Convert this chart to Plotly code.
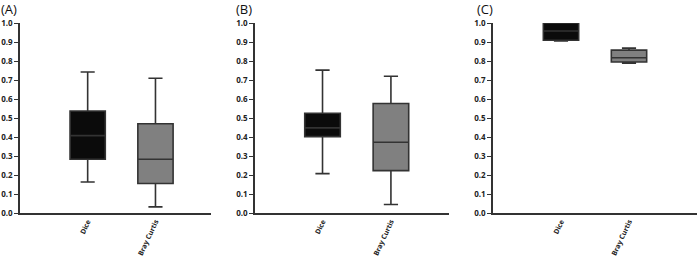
import plotly.graph_objects as go
from plotly.subplots import make_subplots

categories = ["Dice", "Bray Curtis"]
panel_titles = ["(A)", "(B)", "(C)"]

# per panel: [Dice, Bray Curtis]
lower_A = [0.163, 0.032]
q1_A = [0.283, 0.155]
median_A = [0.407, 0.283]
q3_A = [0.537, 0.470]
upper_A = [0.742, 0.709]

lower_B = [0.207, 0.045]
q1_B = [0.402, 0.223]
median_B = [0.448, 0.372]
q3_B = [0.525, 0.576]
upper_B = [0.752, 0.720]

lower_C = [0.906, 0.789]
q1_C = [0.909, 0.795]
median_C = [0.958, 0.817]
q3_C = [1.000, 0.857]
upper_C = [1.000, 0.868]

y_ticks = [0.0, 0.1, 0.2, 0.3, 0.4, 0.5, 0.6, 0.7, 0.8, 0.9, 1.0]

panels = [
    (lower_A, q1_A, median_A, q3_A, upper_A),
    (lower_B, q1_B, median_B, q3_B, upper_B),
    (lower_C, q1_C, median_C, q3_C, upper_C),
]

fills = ["#0b0b0b", "#808080"]
outline = "#333333"

fig = make_subplots(rows=1, cols=3)

for p, (lo, q1, me, q3, up) in enumerate(panels):
    for i, cat in enumerate(categories):
        fig.add_trace(
            go.Box(
                x=[cat],
                lowerfence=[lo[i]],
                q1=[q1[i]],
                median=[me[i]],
                q3=[q3[i]],
                upperfence=[up[i]],
                fillcolor=fills[i],
                line=dict(color=outline, width=1.6),
                whiskerwidth=0.4,
                width=0.52,
                showlegend=False,
                hoverinfo="skip",
            ),
            row=1, col=p + 1,
        )

W = 677.0
domains = [
    [0.0, 191 / W],
    [235 / W, 429 / W],
    [473 / W, 1.0],
]
xranges = [[-0.998, 1.819], [-0.987, 1.849], [-1.0, 2.0]]

ytickfont = dict(family="Open Sans", size=8, color="#222222", weight="bold")
xtickfont = dict(family="Open Sans", size=7, color="#222222", weight="bold")

for p in range(3):
    xa = "xaxis" if p == 0 else f"xaxis{p+1}"
    ya = "yaxis" if p == 0 else f"yaxis{p+1}"
    fig.layout[xa].update(
        domain=domains[p],
        type="category",
        categoryorder="array",
        categoryarray=categories,
        range=xranges[p],
        showline=True,
        linecolor=outline,
        linewidth=1.5,
        showgrid=False,
        zeroline=False,
        ticks="",
        tickangle=-65,
        tickfont=xtickfont,
        automargin=False,
    )
    fig.layout[ya].update(
        range=[0, 1.0],
        tickvals=y_ticks,
        ticktext=[f"{v:.1f}" for v in y_ticks],
        showline=True,
        linecolor=outline,
        linewidth=1.5,
        ticks="outside",
        ticklen=4,
        tickwidth=1.2,
        tickcolor=outline,
        showgrid=False,
        zeroline=False,
        tickfont=ytickfont,
        automargin=False,
    )

title_x_px = [0, 235, 476]
for t, xp in zip(panel_titles, title_x_px):
    fig.add_annotation(
        text=t,
        xref="paper", yref="paper",
        x=(xp - 20) / W, y=1.0,
        xanchor="left", yanchor="bottom",
        yshift=4,
        borderpad=0,
        showarrow=False,
        font=dict(family="Open Sans", size=13, color="#111111"),
    )

fig.update_layout(
    width=700,
    height=264,
    margin=dict(l=20, r=3, t=23, b=51, autoexpand=False),
    plot_bgcolor="white",
    paper_bgcolor="white",
)

fig.write_html(
    "out.html",
    config={"displayModeBar": False},
    post_script="document.body.style.margin='0px';",
)
